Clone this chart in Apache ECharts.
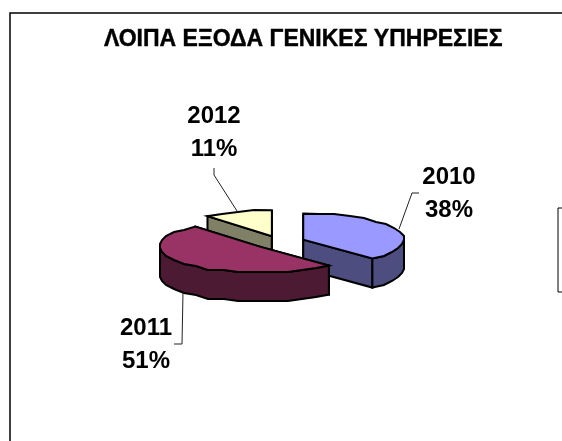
<!DOCTYPE html>
<html>
<head>
<meta charset="utf-8">
<style>
  html, body { margin: 0; padding: 0; background: #fff; }
  #chart { width: 562px; height: 441px; }
</style>
<script src="https://cdn.jsdelivr.net/npm/echarts@6/dist/echarts.min.js"></script>
</head>
<body>
<div id="chart"></div>
<script>
var titleText = 'ΛΟΙΠΑ ΕΞΟΔΑ ΓΕΝΙΚΕΣ ΥΠΗΡΕΣΙΕΣ'
var categories = ['2010', '2011', '2012']
var values = [38, 51, 11]
var topColors = ['#9999FF', '#993366', '#FFFFCC']
var sideColors = ['#4D4D80', '#4D1A33', '#808066']

// back to front, 2011 sits over its neighbours
var drawOrder = [2, 0, 1]
var explode = [25, 27, 24]
var labelPos = [[449, 194], [146, 345], [214, 133]]
var leaders = [
  [[399, 229], [412, 193], [419, 193]],
  [[183, 292], [182, 344], [174, 344]],
  [[237, 211], [214, 175], [214, 168]]
]

// pie geometry (excel style 3d projection)
var cx = 280, cy = 242, rx = 101, ry = 26, depth = 29, gridStep = 2

var total = values.reduce(function(a, b) { return a + b }, 0)

function snap(v) {
  return Math.round(v / gridStep) * gridStep
}

function sliceAngles(index) {
  var sum = 0
  for (var i = 0; i < index; ++i) sum += values[i]
  return [sum / total * 360, (sum + values[index]) / total * 360]
}

// third item of each point is its angle, so the rim can reuse the same vertices
function arcPoints(c, a0, a1) {
  var pts = []
  var n = Math.max(1, Math.round((a1 - a0) / 9))
  for (var i = 0; i <= n; ++i) {
    var deg = a0 + (a1 - a0) * i / n
    var a = deg * Math.PI / 180
    var x = c[0] + rx * Math.sin(a)
    var y = c[1] - ry * Math.cos(a)
    if (i == 0 || i == n) pts.push([x, y, deg])
    else pts.push([snap(x), snap(y), deg])
  }
  return pts
}

function rimPoints(arc) {
  var step = arc.length > 1 ? arc[1][2] - arc[0][2] : 0
  return arc.filter(function(p) {
    return p[2] > 90 - step && p[2] < 270 + step
  })
}

function down(pts) {
  return pts.map(function(p) { return [p[0], p[1] + depth] })
}

function poly(points, fill) {
  return {
    type: 'polygon',
    shape: { points: points.map(function(p) { return [p[0], p[1]] }) },
    silent: true,
    style: { fill: fill, stroke: '#000', lineWidth: 2, lineJoin: 'miter' }
  }
}

function renderSlice(index, api) {
  var ang = sliceAngles(index)
  var mid = (ang[0] + ang[1]) / 2 * Math.PI / 180
  var e = explode[index]
  var c = [cx + e * Math.sin(mid), cy - e * ry / rx * Math.cos(mid)]
  var arc = arcPoints(c, ang[0], ang[1])
  var first = arc[0], last = arc[arc.length - 1]
  var children = []

  // radial walls, then the visible part of the rim, then the top face
  children.push(poly([c, first, [first[0], first[1] + depth], [c[0], c[1] + depth]], sideColors[index]))
  children.push(poly([c, last, [last[0], last[1] + depth], [c[0], c[1] + depth]], sideColors[index]))
  var rim = rimPoints(arc)
  if (rim.length > 1) {
    children.push(poly(rim.concat(down(rim).reverse()), sideColors[index]))
  }
  children.push(poly([c].concat(arc), topColors[index]))

  children.push({
    type: 'polyline',
    shape: { points: leaders[index] },
    silent: true,
    style: { fill: null, stroke: '#222', lineWidth: 1 }
  })
  children.push({
    type: 'text',
    silent: true,
    style: {
      text: categories[index] + '\n' + Math.round(api.value(0) / total * 100) + '%',
      x: labelPos[index][0],
      y: labelPos[index][1],
      align: 'center',
      verticalAlign: 'middle',
      lineHeight: 33,
      fill: '#000',
      font: 'bold 24px "Liberation Sans", Arial, sans-serif'
    }
  })
  return { type: 'group', children: children }
}

var series = drawOrder.map(function(index) {
  return {
    type: 'custom',
    name: categories[index],
    coordinateSystem: 'none',
    animation: false,
    itemStyle: { color: topColors[index] },
    renderItem: function(params, api) {
      return renderSlice(index, api)
    },
    data: [[values[index]]]
  }
})

var chart = echarts.init(document.getElementById('chart'), null, { renderer: 'canvas' })
chart.setOption({
  animation: false,
  backgroundColor: '#fff',
  title: {
    text: titleText,
    left: 99,
    top: 23,
    textStyle: {
      fontFamily: '"Liberation Sans", Arial, sans-serif',
      fontWeight: 'bold',
      fontSize: 23,
      color: '#000',
      textBorderColor: '#000',
      textBorderWidth: 0.4
    }
  },
  legend: {
    data: categories,
    orient: 'vertical',
    left: 558,
    top: 208,
    padding: [13, 10, 13, 10],
    itemGap: 8,
    borderColor: '#000',
    borderWidth: 1,
    textStyle: { fontSize: 14 }
  },
  graphic: [{
    type: 'rect',
    silent: true,
    shape: { x: 10, y: 13, width: 800, height: 800 },
    style: { fill: null, stroke: '#000', lineWidth: 1.5 }
  }],
  series: series
})
</script>
</body>
</html>
